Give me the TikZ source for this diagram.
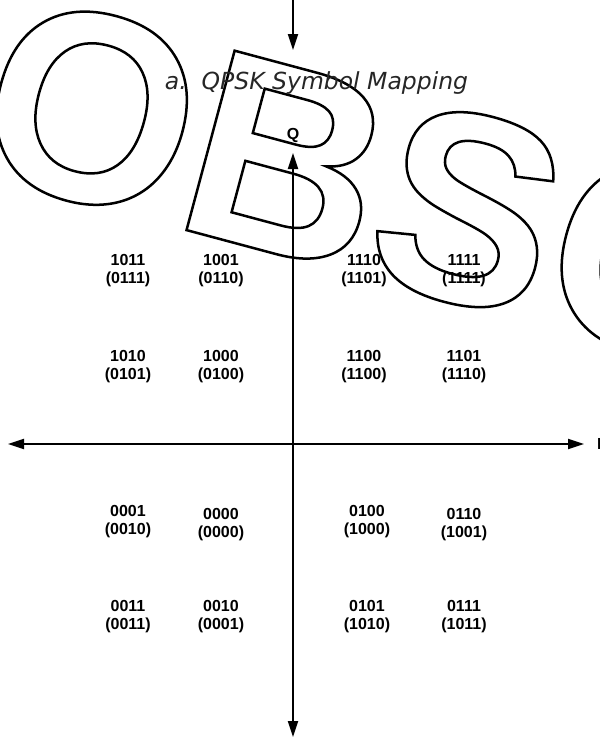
\documentclass[tikz,border=0pt]{standalone}
\usepackage{fontspec}
\setmainfont{Liberation Sans}
\newfontfamily\capfont{DejaVu Sans}
\usetikzlibrary{arrows.meta}

\newcommand{\outlinetext}[1]{\special{pdf:literal direct 1 Tr 2.5 w}#1\special{pdf:literal direct 0 Tr}}

\begin{document}
\begin{tikzpicture}[x=1pt, y=-1pt, every node/.style={inner sep=0pt},
  sym/.style={font=\fontsize{16}{18}\selectfont\bfseries, align=center},
  tip/.style={line width=1.8pt, -{Triangle[length=16pt,width=10pt]}},
  axis/.style={line width=1.8pt, {Triangle[length=16pt,width=10pt]}-{Triangle[length=16pt,width=10pt]}}]
  \useasboundingbox (0,0) rectangle (600,740);
  % stamp across the page
  \node[anchor=base west, rotate=-15, font=\fontsize{270}{270}\selectfont\bfseries] (stamp) at (-34,171) {\outlinetext{OBSOLETE}};
  % tail of the axis above
  \coordinate (prevtop) at (293,0);
  \coordinate (prevend) at (293,50);
  \draw[tip] (prevtop) -- (prevend);
  \node[font=\capfont\itshape\fontsize{23.5}{28}\selectfont, text=black!85, anchor=base] (caption) at (316.5,89) {a.\ \ QPSK Symbol Mapping};
  % axes
  \node[sym] (qlabel) at (293,135) {Q};
  \node[sym, anchor=west] (ilabel) at (597,444) {I};
  \coordinate (qpos) at (293,153);
  \coordinate (qneg) at (293,737);
  \coordinate (ineg) at (8,444);
  \coordinate (ipos) at (584,444);
  \draw[axis] (qneg) -- (qpos);
  \draw[axis] (ineg) -- (ipos);
  % symbols
  \node[sym] (s1011) at (128,271) {1011\\(0111)};
  \node[sym] (s1001) at (221,271) {1001\\(0110)};
  \node[sym] (s1110) at (364,271) {1110\\(1101)};
  \node[sym] (s1111) at (464,271) {1111\\(1111)};
  \node[sym] (s1010) at (128,367) {1010\\(0101)};
  \node[sym] (s1000) at (221,367) {1000\\(0100)};
  \node[sym] (s1100) at (364,367) {1100\\(1100)};
  \node[sym] (s1101) at (464,367) {1101\\(1110)};
  \node[sym] (s0001) at (128,522) {0001\\(0010)};
  \node[sym] (s0000) at (221,525) {0000\\(0000)};
  \node[sym] (s0100) at (367,522) {0100\\(1000)};
  \node[sym] (s0110) at (464,525) {0110\\(1001)};
  \node[sym] (s0011) at (128,617) {0011\\(0011)};
  \node[sym] (s0010) at (221,617) {0010\\(0001)};
  \node[sym] (s0101) at (367,617) {0101\\(1010)};
  \node[sym] (s0111) at (464,617) {0111\\(1011)};
\end{tikzpicture}
\end{document}
